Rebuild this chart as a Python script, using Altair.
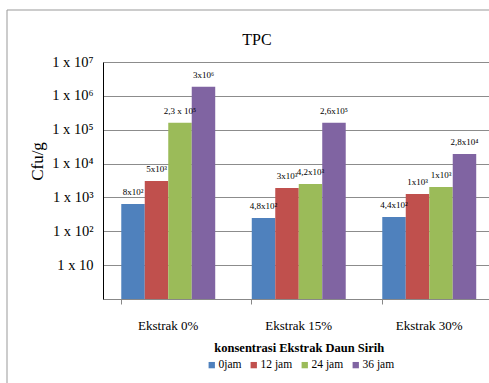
import altair as alt
import pandas as pd

categories = ["Ekstrak 0%", "Ekstrak 15%", "Ekstrak 30%"]
series = ["0jam", "12 jam", "24 jam", "36 jam"]
values = {
    "0jam": [640, 247, 264],
    "12 jam": [3050, 1900, 1260],
    "24 jam": [160000, 2490, 2035],
    "36 jam": [1860000, 160000, 19100],
}
value_labels = {
    "0jam": ["8x10²", "4,8x10²", "4,4x10²"],
    "12 jam": ["5x10³", "3x10³", "1x10³"],
    "24 jam": ["2,3 x 10⁵", "4,2x10³", "1x10³"],
    "36 jam": ["3x10⁶", "2,6x10⁵", "2,8x10⁴"],
}
colors = ["#4F81BD", "#C0504D", "#9BBB59", "#8064A2"]
y_tick_values = [10, 100, 1000, 10000, 100000, 1000000, 10000000]
y_tick_labels = ["1 x 10", "1 x 10²", "1 x 10³", "1 x 10⁴", "1 x 10⁵", "1 x 10⁶", "1 x 10⁷"]
chart_title = "TPC"

rows = []
for s in series:
    for i, c in enumerate(categories):
        rows.append({"cat": c, "series": s, "value": values[s][i],
                     "label": value_labels[s][i], "base": 1})
df = pd.DataFrame(rows)

label_expr = " : ".join(f"datum.value == {v} ? '{l}'" for v, l in zip(y_tick_values, y_tick_labels)) + " : ''"

FONT = "Liberation Serif, Times New Roman, serif"
W, H = 386, 237
STEP_RANGE = 391.5

x_enc = alt.X("cat:N", sort=categories,
              scale=alt.Scale(range=[0, STEP_RANGE], paddingInner=0.28, paddingOuter=0.14),
              axis=alt.Axis(title="konsentrasi Ekstrak Daun Sirih", labelAngle=0,
                            labelFont=FONT, labelFontSize=13, labelColor="#000",
                            labelPadding=15, titleFont=FONT, titleFontSize=12.5,
                            titleFontWeight="bold", titleColor="#000", titlePadding=9,
                            domainColor="#888", tickColor="#888", tickSize=5,
                            bandPosition=0, grid=False))
xoff = alt.XOffset("series:N", sort=series, scale=alt.Scale(paddingInner=0, paddingOuter=0))
y_enc = alt.Y("value:Q",
              scale=alt.Scale(type="log", domain=[1, 10000000]),
              axis=alt.Axis(title="Cfu/g", values=y_tick_values, labelExpr=label_expr,
                            labelFont=FONT, labelFontSize=14.5, labelColor="#000",
                            labelPadding=10, tickSize=0, domainColor="#000",
                            gridColor="#8c8c8c", gridWidth=1,
                            titleFont=FONT, titleFontSize=17, titleFontWeight="normal",
                            titleColor="#000", titleAngle=270, titleX=-66, titleY=99,
                            titleAlign="center", titleBaseline="middle"))

bars = alt.Chart(df).mark_bar().encode(
    x=x_enc, xOffset=xoff, y=y_enc, y2="base:Q",
    color=alt.Color("series:N", sort=series,
                    scale=alt.Scale(domain=series, range=colors),
                    legend=alt.Legend(title=None, orient="none", direction="horizontal",
                                      legendX=103, legendY=297, symbolType="square",
                                      symbolSize=40, symbolStrokeWidth=0,
                                      labelFont=FONT, labelFontSize=11.5, labelColor="#000",
                                      columnPadding=6, labelOffset=1)),
)

texts = alt.Chart(df).mark_text(font=FONT, fontSize=9, baseline="bottom", dy=-7,
                                color="#000").encode(
    x=alt.X("cat:N", sort=categories), xOffset=alt.XOffset("series:N", sort=series),
    y="value:Q", text="label:N",
)

title_df = pd.DataFrame({"t": [chart_title]})
title_mark = alt.Chart(title_df).mark_text(font=FONT, fontSize=16, color="#000",
                                           baseline="alphabetic", align="center").encode(
    x=alt.value(154), y=alt.value(-17), text="t:N")

frame_top = alt.Chart(title_df).mark_rule(color="#999", strokeWidth=1).encode(
    x=alt.value(-96), x2=alt.value(W), y=alt.value(-52))
frame_left = alt.Chart(title_df).mark_rule(color="#999", strokeWidth=1).encode(
    x=alt.value(-96), y=alt.value(-52), y2=alt.value(H + 84))

chart = alt.layer(bars, texts, title_mark, frame_top, frame_left).properties(
    width=W, height=H,
    autosize=alt.AutoSizeParams(type="none"),
    padding={"left": 103, "top": 62, "right": 0, "bottom": 84},
).configure_view(stroke=None).configure(background="white")

chart.save("out.html", embed_options={"renderer": "svg", "actions": False})
